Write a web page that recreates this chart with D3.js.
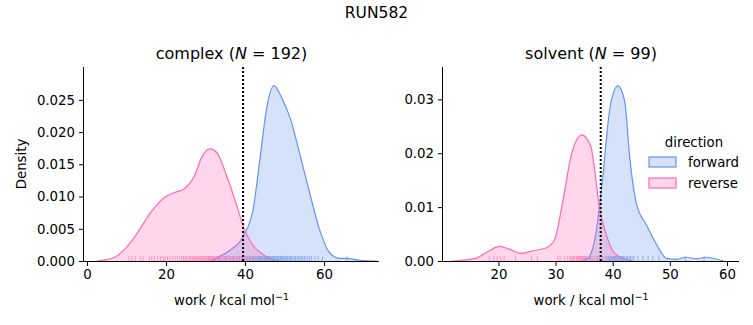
<!DOCTYPE html>
<html>
<head>
<meta charset="utf-8">
<script src="https://cdn.jsdelivr.net/npm/d3@7"></script>
<style>
  body { margin: 0; background: #fff; }
  text { font-family: "DejaVu Sans", sans-serif; fill: #000; }
</style>
</head>
<body>
<script>
// density curves: [work, density]
const complexForward = [[31.5,0],[32.9,0.0005],[36,0.0016],[39.5,0.0038],[42.1,0.0082],[43.8,0.016],[45.5,0.0238],
  [47.3,0.0272],[49.3,0.0253],[51.4,0.0222],[53.9,0.0165],[56.5,0.0102],[59,0.0046],[61.5,0.0012],
  [64,0.0004],[65.7,0.0004],[69.1,0.0001],[73.3,0]];
const complexReverse = [[2.5,0],[6.8,0.0005],[9.5,0.0018],[11.9,0.0036],[16.1,0.0075],[19.5,0.0098],[22,0.0106],
  [24.6,0.0112],[27.1,0.0131],[29.1,0.0162],[31.1,0.0174],[32.9,0.0168],[35.4,0.0131],[38,0.0084],
  [39.7,0.0051],[42.3,0.0022],[44.8,0.0009],[47,0.0002],[48.5,0]];
const solventForward = [[34.5,0],[35.7,0.0005],[37.1,0.0054],[38.3,0.016],[39.5,0.0283],[40.9,0.0325],[42.1,0.0296],
  [43,0.019],[44.2,0.0104],[45.9,0.0067],[47.7,0.003],[49.4,0.0005],[51.2,0.0003],[52.8,0.0007],
  [54.7,0.0004],[56.3,0.0007],[59.4,0]];
const solventReverse = [[11.9,0],[16,0.0005],[18.4,0.0019],[20.2,0.0027],[21.9,0.0022],[23.9,0.0014],[26,0.0019],
  [28.3,0.0024],[29.8,0.0039],[31.2,0.0107],[32.7,0.0194],[34.6,0.0234],[36.2,0.0212],[36.5,0.0195],
  [37.7,0.0098],[38.9,0.0048],[40.1,0.0017],[41.8,0.0005],[43.5,0]];

// rug values (individual work samples, estimated)
const complexForwardRug = [33.4,35.2,36.3,37.1,38.0,38.6,39.2,39.8,40.3,40.7,41.1,41.5,41.9,42.2,42.5,42.8,43.1,
  43.4,43.7,43.9,44.2,44.5,44.8,45.0,45.2,45.4,45.7,45.9,46.1,46.3,46.6,46.8,47.0,47.2,47.4,47.6,47.9,48.1,48.3,
  48.5,48.8,49.0,49.2,49.4,49.7,49.9,50.2,50.4,50.7,50.9,51.2,51.5,51.8,52.1,52.5,52.8,53.2,53.5,53.9,54.2,
  54.6,55.0,55.4,55.9,56.3,56.8,57.7,58.5,59.6,65.8];
const complexReverseRug = [10.6,11.4,12.3,13.5,14.2,15.8,16.4,17.1,17.9,18.6,19.3,19.8,20.4,21.0,21.7,22.3,22.9,
  23.5,24.0,24.4,24.8,25.1,25.5,25.9,26.2,26.6,26.9,27.2,27.5,27.8,28.1,28.3,28.6,28.9,29.1,29.4,29.6,29.9,30.1,
  30.3,30.6,30.8,31.0,31.2,31.5,31.7,31.9,32.1,32.4,32.6,32.9,33.2,33.5,33.8,34.1,34.5,34.8,35.1,35.5,35.9,
  36.4,36.8,37.2,37.6,38.0,38.5,39.0,39.4,40.0,40.6,41.3,42.0,43.7,45.4];
const solventForwardRug = [36.1,37.4,38.2,38.8,39.3,39.5,39.7,39.9,40.1,40.3,40.5,40.7,40.9,41.1,41.3,41.5,41.7,
  41.9,42.1,42.4,42.6,42.9,43.1,43.4,43.7,44.4,45.3,46.2,47.0,48.1,52.7,56.0];
const solventReverseRug = [18.4,19.2,19.8,20.4,21.0,23.0,25.8,26.8,30.4,30.8,31.6,32.1,32.5,32.7,32.9,33.1,33.3,
  33.6,33.8,33.9,34.1,34.2,34.4,34.5,34.7,34.8,35.0,35.1,35.3,35.4,35.7,36.0,36.4,36.8,37.2,37.7,38.3,39.0,40.1];

const directions = ['forward', 'reverse'];
const colors = {forward: '#6495ED', reverse: '#FF69B4'};

const W = 753, H = 325;
const svg = d3.select('body').append('svg').attr('width', W).attr('height', H);

svg.append('text').text('RUN582').attr('x', W / 2).attr('y', 18)
  .attr('text-anchor', 'middle').style('font-size', '15.5px');

function drawPanel(cfg) {
  const x = d3.scaleLinear().domain(cfg.xDomain).range([cfg.left, cfg.right]);
  const y = d3.scaleLinear().domain(cfg.yDomain).range([261, 67]);
  const g = svg.append('g');

  const line = d3.line().x(d => x(d[0])).y(d => y(d[1])).curve(d3.curveMonotoneX);
  const area = d3.area().x(d => x(d[0])).y0(y(0)).y1(d => y(d[1])).curve(d3.curveMonotoneX);

  directions.forEach(dir => {
    const data = cfg.curves[dir];
    g.append('path').attr('d', area(data)).attr('fill', colors[dir]).attr('fill-opacity', 0.27);
    g.append('path').attr('d', line(data)).attr('fill', 'none').attr('stroke', colors[dir]).attr('stroke-width', 1.2);
  });

  directions.forEach(dir => {
    g.selectAll(null).data(cfg.rugs[dir]).enter().append('line')
      .attr('x1', d => x(d)).attr('x2', d => x(d))
      .attr('y1', y(0)).attr('y2', y(0) - 5)
      .attr('stroke', colors[dir]).attr('stroke-opacity', 0.6).attr('stroke-width', 1);
  });

  g.append('line').attr('x1', x(cfg.vline)).attr('x2', x(cfg.vline)).attr('y1', y.range()[1]).attr('y2', y(0))
    .attr('stroke', '#000').attr('stroke-width', 2).attr('stroke-dasharray', '2,2');

  const xAxis = g.append('g').attr('transform', `translate(0,${y(0)})`)
    .call(d3.axisBottom(x).tickValues(cfg.xTicks).tickSize(5).tickPadding(4).tickFormat(d3.format('d')));
  const yAxis = g.append('g').attr('transform', `translate(${cfg.left},0)`)
    .call(d3.axisLeft(y).tickValues(cfg.yTicks).tickSize(5).tickPadding(4).tickFormat(d3.format(cfg.yFormat)));
  [xAxis, yAxis].forEach(a => {
    a.selectAll('text').style('font-size', '13.3px').style('font-family', '"DejaVu Sans", sans-serif').attr('fill', '#000');
    a.selectAll('line, path').attr('stroke', '#000');
    a.select('.domain').attr('stroke-width', 1);
  });
  yAxis.select('.domain').attr('d', `M-0.5,${y(0)}V67`);
  xAxis.select('.domain').attr('d', `M${cfg.left},0.5H${cfg.right}`);

  const title = g.append('text').attr('x', (cfg.left + cfg.right) / 2).attr('y', 59)
    .attr('text-anchor', 'middle').style('font-size', '16px');
  title.append('tspan').text(cfg.name + ' (');
  title.append('tspan').text('N').style('font-style', 'italic');
  title.append('tspan').text(' = ' + cfg.n + ')');

  const xl = g.append('text').attr('x', (cfg.left + cfg.right) / 2).attr('y', 305)
    .attr('text-anchor', 'middle').style('font-size', '13.3px');
  xl.append('tspan').text('work / kcal mol');
  xl.append('tspan').text('\u22121').attr('dy', -5).style('font-size', '9.5px');
  return g;
}

drawPanel({
  name: 'complex', n: 192, left: 84, right: 379,
  xDomain: [-0.76, 73.9], yDomain: [0, 0.0301],
  xTicks: [0, 20, 40, 60], yTicks: [0, 0.005, 0.01, 0.015, 0.02, 0.025], yFormat: '.3f',
  vline: 39.5,
  curves: {forward: complexForward, reverse: complexReverse},
  rugs: {forward: complexForwardRug, reverse: complexReverseRug}
});

drawPanel({
  name: 'solvent', n: 99, left: 443, right: 739,
  xDomain: [10.3, 62.1], yDomain: [0, 0.036],
  xTicks: [20, 30, 40, 50, 60], yTicks: [0, 0.01, 0.02, 0.03], yFormat: '.2f',
  vline: 37.9,
  curves: {forward: solventForward, reverse: solventReverse},
  rugs: {forward: solventForwardRug, reverse: solventReverseRug}
});

svg.append('text').text('Density').attr('transform', 'translate(26,164) rotate(-90)')
  .attr('text-anchor', 'middle').style('font-size', '13.3px');

// legend
const legend = svg.append('g');
legend.append('text').text('direction').attr('x', 694).attr('y', 147)
  .attr('text-anchor', 'middle').style('font-size', '13.3px');
directions.forEach((dir, i) => {
  const yy = 157 + i * 21;
  legend.append('rect').attr('x', 649).attr('y', yy).attr('width', 27).attr('height', 10)
    .attr('fill', colors[dir]).attr('fill-opacity', 0.27).attr('stroke', colors[dir]).attr('stroke-width', 1.2);
  legend.append('text').text(dir).attr('x', 688).attr('y', yy + 10).style('font-size', '13.3px');
});
</script>
</body>
</html>
